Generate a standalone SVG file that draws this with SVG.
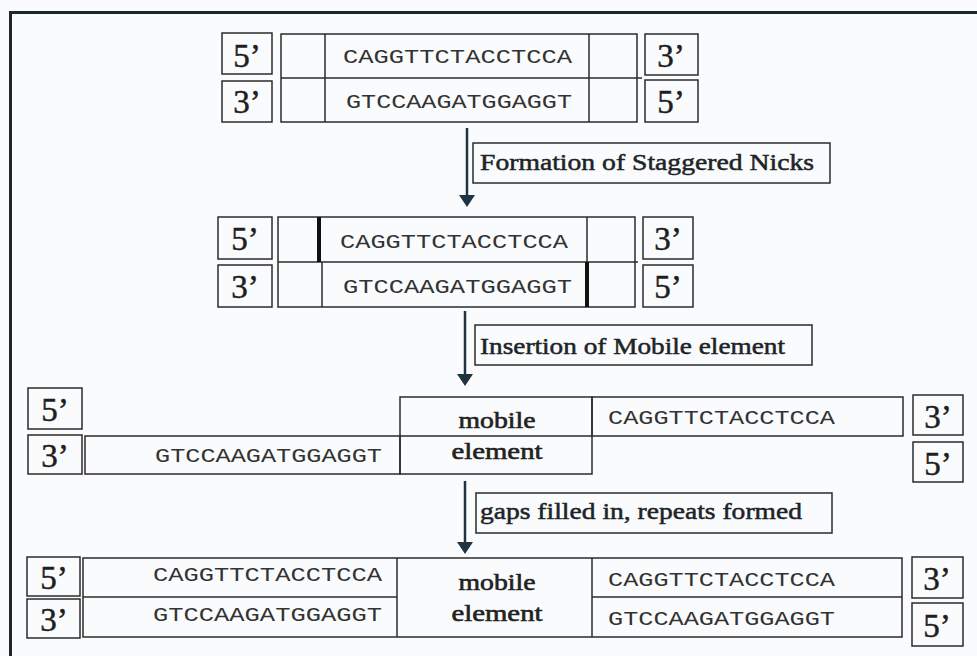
<svg xmlns="http://www.w3.org/2000/svg" width="977" height="656" viewBox="0 0 977 656">
<style>
.bx{fill:none;stroke:#2b2b2b;stroke-width:1.5}
.ln{stroke:#2b2b2b;stroke-width:1.5;fill:none}
.nk{stroke:#111;stroke-width:4}
.end{font-family:"Liberation Serif",serif;font-size:33px;fill:#1e1e1e;stroke:#1e1e1e;stroke-width:0.5;text-anchor:middle}
.seq{font-family:"Liberation Mono",monospace;font-size:21px;fill:#333}
.me{font-family:"Liberation Serif",serif;font-size:23px;fill:#222;stroke:#222;stroke-width:0.6;text-anchor:middle}
.lab{font-family:"Liberation Serif",serif;font-size:23px;fill:#1d2428;stroke:#1d2428;stroke-width:0.5}
.arr{stroke:#1f3440;stroke-width:2.5}
.head{fill:#1f3440}
</style>
<rect x="0" y="0" width="977" height="656" fill="#fafbfc"/>
<path d="M10.5,680 V12.5 H990" fill="none" stroke="#1c282e" stroke-width="3"/>

<g id="row1">
  <rect class="bx" x="222" y="33" width="50" height="41"/>
  <text class="end" x="247" y="67">5’</text>
  <rect class="bx" x="222" y="81" width="50" height="41"/>
  <text class="end" x="247" y="113">3’</text>
  <rect class="bx" x="281" y="34" width="356" height="88"/>
  <line class="ln" x1="281" y1="78" x2="642" y2="78"/>
  <line class="ln" x1="325" y1="34" x2="325" y2="122"/>
  <line class="ln" x1="589" y1="34" x2="589" y2="122"/>
  <text class="seq" x="343" y="63" textLength="229" lengthAdjust="spacingAndGlyphs">CAGGTTCTACCTCCA</text>
  <text class="seq" x="346" y="108" textLength="226" lengthAdjust="spacingAndGlyphs">GTCCAAGATGGAGGT</text>
  <rect class="bx" x="645" y="34" width="53" height="41"/>
  <text class="end" x="671" y="67">3’</text>
  <rect class="bx" x="645" y="80" width="53" height="42"/>
  <text class="end" x="671" y="113">5’</text>
</g>

<g id="label1">
  <rect class="bx" x="473" y="143" width="357" height="40"/>
  <text class="lab" x="480" y="170" textLength="334" lengthAdjust="spacingAndGlyphs">Formation of Staggered Nicks</text>
</g>

<g id="row2">
  <rect class="bx" x="218" y="217" width="54" height="42"/>
  <text class="end" x="245" y="250">5’</text>
  <rect class="bx" x="218" y="265" width="54" height="42"/>
  <text class="end" x="245" y="298">3’</text>
  <rect class="bx" x="278" y="217" width="357" height="90"/>
  <line class="ln" x1="278" y1="262" x2="638" y2="262"/>
  <line class="nk" x1="319" y1="217" x2="319" y2="262"/>
  <line class="ln" x1="587" y1="217" x2="587" y2="262"/>
  <line class="ln" x1="322" y1="262" x2="322" y2="307"/>
  <line class="nk" x1="587" y1="262" x2="587" y2="307"/>
  <text class="seq" x="340" y="248" textLength="228" lengthAdjust="spacingAndGlyphs">CAGGTTCTACCTCCA</text>
  <text class="seq" x="343" y="293" textLength="229" lengthAdjust="spacingAndGlyphs">GTCCAAGATGGAGGT</text>
  <rect class="bx" x="643" y="217" width="50" height="42"/>
  <text class="end" x="668" y="250">3’</text>
  <rect class="bx" x="643" y="265" width="50" height="42"/>
  <text class="end" x="668" y="298">5’</text>
</g>

<g id="label2">
  <rect class="bx" x="475" y="325" width="337" height="40"/>
  <text class="lab" x="480" y="354" textLength="305" lengthAdjust="spacingAndGlyphs">Insertion of Mobile element</text>
</g>

<g id="row3">
  <rect class="bx" x="28" y="388" width="54" height="41"/>
  <text class="end" x="55" y="421">5’</text>
  <rect class="bx" x="28" y="435" width="54" height="39"/>
  <text class="end" x="55" y="467">3’</text>
  <rect class="bx" x="85" y="436" width="315" height="38"/>
  <text class="seq" x="155" y="462" textLength="227" lengthAdjust="spacingAndGlyphs">GTCCAAGATGGAGGT</text>
  <rect class="bx" x="400" y="397" width="192" height="77"/>
  <line class="ln" x1="400" y1="436" x2="592" y2="436"/>
  <text class="me" x="497" y="428" textLength="77" lengthAdjust="spacingAndGlyphs">mobile</text>
  <text class="me" x="497" y="459" textLength="91" lengthAdjust="spacingAndGlyphs">element</text>
  <rect class="bx" x="592" y="397" width="311" height="39"/>
  <text class="seq" x="608" y="424" textLength="227" lengthAdjust="spacingAndGlyphs">CAGGTTCTACCTCCA</text>
  <rect class="bx" x="913" y="395" width="50" height="40"/>
  <text class="end" x="938" y="428">3’</text>
  <rect class="bx" x="913" y="442" width="50" height="40"/>
  <text class="end" x="938" y="475">5’</text>
</g>

<g id="label3">
  <rect class="bx" x="476" y="493" width="356" height="40"/>
  <text class="lab" x="480" y="519" textLength="322" lengthAdjust="spacingAndGlyphs">gaps filled in, repeats formed</text>
</g>

<g id="row4">
  <rect class="bx" x="27" y="557" width="53" height="39"/>
  <text class="end" x="54" y="589">5’</text>
  <rect class="bx" x="27" y="599" width="53" height="39"/>
  <text class="end" x="54" y="631">3’</text>
  <rect class="bx" x="83" y="558" width="819" height="79"/>
  <line class="ln" x1="83" y1="597" x2="397" y2="597"/>
  <line class="ln" x1="592" y1="597" x2="902" y2="597"/>
  <line class="ln" x1="397" y1="558" x2="397" y2="637"/>
  <line class="ln" x1="592" y1="558" x2="592" y2="637"/>
  <text class="seq" x="153" y="581" textLength="229" lengthAdjust="spacingAndGlyphs">CAGGTTCTACCTCCA</text>
  <text class="seq" x="153" y="621" textLength="229" lengthAdjust="spacingAndGlyphs">GTCCAAGATGGAGGT</text>
  <text class="me" x="497" y="590" textLength="77" lengthAdjust="spacingAndGlyphs">mobile</text>
  <text class="me" x="497" y="621" textLength="91" lengthAdjust="spacingAndGlyphs">element</text>
  <text class="seq" x="608" y="586" textLength="227" lengthAdjust="spacingAndGlyphs">CAGGTTCTACCTCCA</text>
  <text class="seq" x="608" y="625" textLength="227" lengthAdjust="spacingAndGlyphs">GTCCAAGATGGAGGT</text>
  <rect class="bx" x="912" y="557" width="51" height="41"/>
  <text class="end" x="937" y="590">3’</text>
  <rect class="bx" x="912" y="603" width="51" height="43"/>
  <text class="end" x="937" y="637">5’</text>
</g>

<g id="connectors">
  <line class="arr" x1="467" y1="128" x2="467" y2="198"/>
  <polygon class="head" points="459,195 475,195 467,207"/>
  <line class="arr" x1="465" y1="311" x2="465" y2="377"/>
  <polygon class="head" points="457,374 473,374 465,386"/>
  <line class="arr" x1="465" y1="481" x2="465" y2="544"/>
  <polygon class="head" points="457,542 473,542 465,554"/>
</g>
</svg>
